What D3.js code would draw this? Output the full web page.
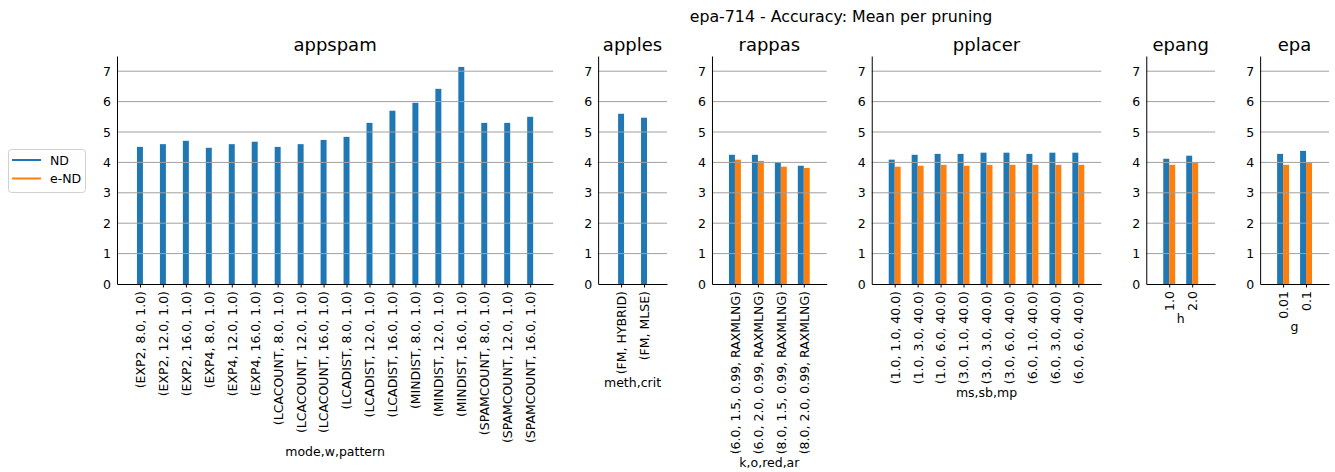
<!DOCTYPE html>
<html lang="en">
<head>
  <meta charset="UTF-8" />
  <title>epa-714 - Accuracy: Mean per pruning</title>
  <script src="https://d3js.org/d3.v7.min.js"></script>
  <style>
    html, body {
      margin: 0;
      padding: 0;
      background-color: white;
      overflow: hidden;
    }
    svg text {
      font-family: "DejaVu Sans", sans-serif;
      fill: black;
    }
  </style>
</head>
<body>
  <svg id="chart" width="1335" height="472"></svg>

  <script>
    // values
    const yTicks = [0, 1, 2, 3, 4, 5, 6, 7];

    const appspamCats = [
      "(EXP2, 8.0, 1.0)", "(EXP2, 12.0, 1.0)", "(EXP2, 16.0, 1.0)",
      "(EXP4, 8.0, 1.0)", "(EXP4, 12.0, 1.0)", "(EXP4, 16.0, 1.0)",
      "(LCACOUNT, 8.0, 1.0)", "(LCACOUNT, 12.0, 1.0)", "(LCACOUNT, 16.0, 1.0)",
      "(LCADIST, 8.0, 1.0)", "(LCADIST, 12.0, 1.0)", "(LCADIST, 16.0, 1.0)",
      "(MINDIST, 8.0, 1.0)", "(MINDIST, 12.0, 1.0)", "(MINDIST, 16.0, 1.0)",
      "(SPAMCOUNT, 8.0, 1.0)", "(SPAMCOUNT, 12.0, 1.0)", "(SPAMCOUNT, 16.0, 1.0)"
    ];
    const appspamND = [4.51, 4.60, 4.71, 4.48, 4.60, 4.68, 4.51, 4.60, 4.74,
                       4.84, 5.30, 5.70, 5.96, 6.42, 7.14, 5.30, 5.30, 5.50];

    const applesCats = ["(FM, HYBRID)", "(FM, MLSE)"];
    const applesND = [5.60, 5.47];

    const rappasCats = [
      "(6.0, 1.5, 0.99, RAXMLNG)", "(6.0, 2.0, 0.99, RAXMLNG)",
      "(8.0, 1.5, 0.99, RAXMLNG)", "(8.0, 2.0, 0.99, RAXMLNG)"
    ];
    const rappasND = [4.25, 4.25, 4.00, 3.89];
    const rappasEND = [4.09, 4.05, 3.86, 3.82];

    const pplacerCats = [
      "(1.0, 1.0, 40.0)", "(1.0, 3.0, 40.0)", "(1.0, 6.0, 40.0)",
      "(3.0, 1.0, 40.0)", "(3.0, 3.0, 40.0)", "(3.0, 6.0, 40.0)",
      "(6.0, 1.0, 40.0)", "(6.0, 3.0, 40.0)", "(6.0, 6.0, 40.0)"
    ];
    const pplacerND = [4.09, 4.25, 4.28, 4.28, 4.32, 4.32, 4.28, 4.32, 4.32];
    const pplacerEND = [3.86, 3.89, 3.92, 3.89, 3.92, 3.92, 3.92, 3.92, 3.92];

    const epangCats = ["1.0", "2.0"];
    const epangND = [4.12, 4.22];
    const epangEND = [3.92, 4.00];

    const epaCats = ["0.01", "0.1"];
    const epaND = [4.28, 4.38];
    const epaEND = [3.92, 4.00];

    const panels = [
      { name: "appspam", xlabel: "mode,w,pattern", cats: appspamCats, nd: appspamND, end: null },
      { name: "apples", xlabel: "meth,crit", cats: applesCats, nd: applesND, end: null },
      { name: "rappas", xlabel: "k,o,red,ar", cats: rappasCats, nd: rappasND, end: rappasEND },
      { name: "pplacer", xlabel: "ms,sb,mp", cats: pplacerCats, nd: pplacerND, end: pplacerEND },
      { name: "epang", xlabel: "h", cats: epangCats, nd: epangND, end: epangEND },
      { name: "epa", xlabel: "g", cats: epaCats, nd: epaND, end: epaEND }
    ];

    const blue = "#1f77b4";
    const orange = "#ff7f0e";
    const plotLeft = 117;
    const plotRight = 1329;
    const panelGap = 45;
    const baseY = 284;
    const topY = 56;
    const tickFont = "12.5px";

    const svg = d3.select("#chart");

    const totalSteps = d3.sum(panels, p => p.cats.length + 1);
    const step = (plotRight - plotLeft - panelGap * (panels.length - 1)) / totalSteps;
    const barW = step * 0.26;

    const y = d3.scaleLinear().domain([0, 7.5]).range([baseY, topY]);

    svg.append("text")
      .attr("x", 841)
      .attr("y", 22)
      .attr("text-anchor", "middle")
      .style("font-size", "15.8px")
      .text("epa-714 - Accuracy: Mean per pruning");

    let left = plotLeft;
    panels.forEach(p => {
      const w = step * (p.cats.length + 1);
      const x = d3.scalePoint().domain(p.cats).range([0, w]).padding(1);
      const g = svg.append("g").attr("transform", `translate(${left},0)`);

      // bars
      p.cats.forEach((c, i) => {
        const cx = x(c);
        if (p.end) {
          g.append("rect")
            .attr("x", cx - barW).attr("width", barW)
            .attr("y", y(p.nd[i])).attr("height", baseY - y(p.nd[i]))
            .attr("fill", blue);
          g.append("rect")
            .attr("x", cx).attr("width", barW)
            .attr("y", y(p.end[i])).attr("height", baseY - y(p.end[i]))
            .attr("fill", orange);
        } else {
          g.append("rect")
            .attr("x", cx - barW / 2).attr("width", barW)
            .attr("y", y(p.nd[i])).attr("height", baseY - y(p.nd[i]))
            .attr("fill", blue);
        }
      });

      // grid
      g.selectAll("line.grid")
        .data(yTicks.filter(t => t > 0))
        .join("line")
        .attr("class", "grid")
        .attr("x1", 0).attr("x2", w)
        .attr("y1", d => y(d)).attr("y2", d => y(d))
        .attr("stroke", "#a0a0a0")
        .attr("stroke-width", 1);

      // y axis
      const yAxis = g.append("g")
        .call(d3.axisLeft(y).tickValues(yTicks).tickSize(0).tickSizeOuter(0).tickPadding(6));
      yAxis.selectAll("text").style("font-size", tickFont);
      yAxis.select(".domain").attr("stroke", "black");

      // x axis
      const xAxis = g.append("g")
        .attr("transform", `translate(0,${baseY})`)
        .call(d3.axisBottom(x).tickSize(3.5).tickSizeOuter(0));
      xAxis.select(".domain").attr("stroke", "black");
      xAxis.selectAll("text")
        .style("font-size", tickFont)
        .attr("transform", "rotate(-90)")
        .attr("text-anchor", "end")
        .attr("x", -7)
        .attr("y", 0)
        .attr("dy", "0.35em");

      const bottom = baseY + xAxis.node().getBBox().height;

      g.append("text")
        .attr("x", w / 2)
        .attr("y", bottom + 12.5)
        .attr("text-anchor", "middle")
        .style("font-size", tickFont)
        .text(p.xlabel);

      g.append("text")
        .attr("x", w / 2)
        .attr("y", 51)
        .attr("text-anchor", "middle")
        .style("font-size", "18px")
        .text(p.name);

      left += w + panelGap;
    });

    // legend
    const legend = svg.append("g");
    legend.append("rect")
      .attr("x", 8.5).attr("y", 149.5)
      .attr("width", 77).attr("height", 43)
      .attr("rx", 3)
      .attr("fill", "white")
      .attr("stroke", "#d0d0d0");
    [["ND", blue], ["e-ND", orange]].forEach(([label, color], i) => {
      const ly = 160 + i * 18.5;
      legend.append("line")
        .attr("x1", 12).attr("x2", 41)
        .attr("y1", ly).attr("y2", ly)
        .attr("stroke", color).attr("stroke-width", 2);
      legend.append("text")
        .attr("x", 50).attr("y", ly + 4.5)
        .style("font-size", tickFont)
        .text(label);
    });
  </script>
</body>
</html>
